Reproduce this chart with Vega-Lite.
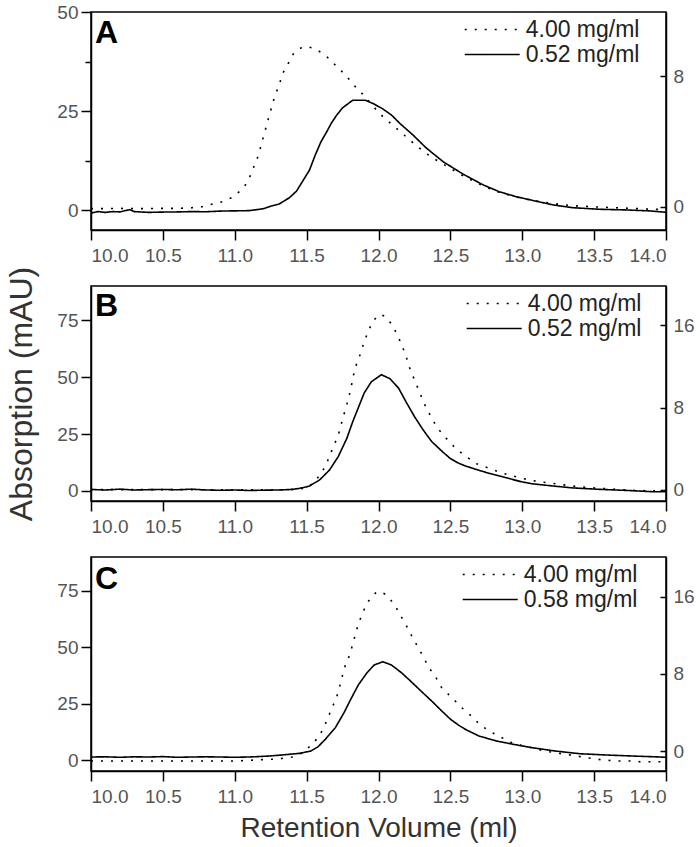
{
  "$schema": "https://vega.github.io/schema/vega-lite/v6.json",
  "background": "white",
  "padding": {"left": 5, "right": 5, "top": 2, "bottom": 3},
  "datasets": {
    "A": [
      {"s":"4.00 mg/ml","v":10.0,"a":0.4},{"s":"4.00 mg/ml","v":10.1,"a":0.4},{"s":"4.00 mg/ml","v":10.2,"a":0.45},{"s":"4.00 mg/ml","v":10.3,"a":0.4},{"s":"4.00 mg/ml","v":10.4,"a":0.4},{"s":"4.00 mg/ml","v":10.5,"a":0.45},{"s":"4.00 mg/ml","v":10.6,"a":0.45},{"s":"4.00 mg/ml","v":10.7,"a":0.6},{"s":"4.00 mg/ml","v":10.77,"a":0.85},{"s":"4.00 mg/ml","v":10.84,"a":1.5},{"s":"4.00 mg/ml","v":10.91,"a":2.1},{"s":"4.00 mg/ml","v":10.98,"a":3.2},{"s":"4.00 mg/ml","v":11.06,"a":5.5},{"s":"4.00 mg/ml","v":11.10,"a":8.0},{"s":"4.00 mg/ml","v":11.13,"a":10.7},{"s":"4.00 mg/ml","v":11.16,"a":13.4},{"s":"4.00 mg/ml","v":11.18,"a":15.9},{"s":"4.00 mg/ml","v":11.20,"a":18.6},{"s":"4.00 mg/ml","v":11.22,"a":21.2},{"s":"4.00 mg/ml","v":11.24,"a":23.9},{"s":"4.00 mg/ml","v":11.26,"a":26.4},{"s":"4.00 mg/ml","v":11.28,"a":29.0},{"s":"4.00 mg/ml","v":11.31,"a":31.6},{"s":"4.00 mg/ml","v":11.33,"a":34.3},{"s":"4.00 mg/ml","v":11.37,"a":36.9},{"s":"4.00 mg/ml","v":11.41,"a":39.6},{"s":"4.00 mg/ml","v":11.45,"a":40.8},{"s":"4.00 mg/ml","v":11.5,"a":41.3},{"s":"4.00 mg/ml","v":11.56,"a":40.7},{"s":"4.00 mg/ml","v":11.63,"a":39.1},{"s":"4.00 mg/ml","v":11.70,"a":36.6},{"s":"4.00 mg/ml","v":11.77,"a":34.1},{"s":"4.00 mg/ml","v":11.83,"a":31.5},{"s":"4.00 mg/ml","v":11.90,"a":28.9},{"s":"4.00 mg/ml","v":11.96,"a":26.3},{"s":"4.00 mg/ml","v":12.03,"a":23.6},{"s":"4.00 mg/ml","v":12.11,"a":21.1},{"s":"4.00 mg/ml","v":12.18,"a":18.9},{"s":"4.00 mg/ml","v":12.25,"a":16.7},{"s":"4.00 mg/ml","v":12.32,"a":14.6},{"s":"4.00 mg/ml","v":12.39,"a":12.9},{"s":"4.00 mg/ml","v":12.47,"a":11.2},{"s":"4.00 mg/ml","v":12.59,"a":8.6},{"s":"4.00 mg/ml","v":12.73,"a":6.1},{"s":"4.00 mg/ml","v":12.84,"a":4.5},{"s":"4.00 mg/ml","v":12.96,"a":3.3},{"s":"4.00 mg/ml","v":13.08,"a":2.4},{"s":"4.00 mg/ml","v":13.22,"a":1.64},{"s":"4.00 mg/ml","v":13.35,"a":1.14},{"s":"4.00 mg/ml","v":13.54,"a":0.76},{"s":"4.00 mg/ml","v":13.73,"a":0.5},{"s":"4.00 mg/ml","v":13.89,"a":0.25},{"s":"4.00 mg/ml","v":14.0,"a":0.13},
      {"s":"0.52 mg/ml","v":10.0,"a":-0.39},{"s":"0.52 mg/ml","v":10.05,"a":-0.3},{"s":"0.52 mg/ml","v":10.1,"a":-0.35},{"s":"0.52 mg/ml","v":10.15,"a":-0.3},{"s":"0.52 mg/ml","v":10.2,"a":-0.32},{"s":"0.52 mg/ml","v":10.27,"a":-0.18},{"s":"0.52 mg/ml","v":10.3,"a":-0.3},{"s":"0.52 mg/ml","v":10.4,"a":-0.35},{"s":"0.52 mg/ml","v":10.5,"a":-0.33},{"s":"0.52 mg/ml","v":10.6,"a":-0.32},{"s":"0.52 mg/ml","v":10.7,"a":-0.3},{"s":"0.52 mg/ml","v":10.8,"a":-0.31},{"s":"0.52 mg/ml","v":10.9,"a":-0.27},{"s":"0.52 mg/ml","v":10.96,"a":-0.26},{"s":"0.52 mg/ml","v":11.05,"a":-0.25},{"s":"0.52 mg/ml","v":11.10,"a":-0.24},{"s":"0.52 mg/ml","v":11.17,"a":-0.16},{"s":"0.52 mg/ml","v":11.2,"a":-0.12},{"s":"0.52 mg/ml","v":11.24,"a":0.0},{"s":"0.52 mg/ml","v":11.31,"a":0.17},{"s":"0.52 mg/ml","v":11.38,"a":0.55},{"s":"0.52 mg/ml","v":11.43,"a":0.96},{"s":"0.52 mg/ml","v":11.47,"a":1.53},{"s":"0.52 mg/ml","v":11.52,"a":2.25},{"s":"0.52 mg/ml","v":11.56,"a":3.17},{"s":"0.52 mg/ml","v":11.60,"a":3.99},{"s":"0.52 mg/ml","v":11.64,"a":4.6},{"s":"0.52 mg/ml","v":11.67,"a":5.1},{"s":"0.52 mg/ml","v":11.71,"a":5.63},{"s":"0.52 mg/ml","v":11.75,"a":6.07},{"s":"0.52 mg/ml","v":11.82,"a":6.53},{"s":"0.52 mg/ml","v":11.91,"a":6.53},{"s":"0.52 mg/ml","v":11.97,"a":6.3},{"s":"0.52 mg/ml","v":12.03,"a":6.0},{"s":"0.52 mg/ml","v":12.09,"a":5.63},{"s":"0.52 mg/ml","v":12.15,"a":5.1},{"s":"0.52 mg/ml","v":12.24,"a":4.4},{"s":"0.52 mg/ml","v":12.33,"a":3.62},{"s":"0.52 mg/ml","v":12.45,"a":2.76},{"s":"0.52 mg/ml","v":12.59,"a":1.99},{"s":"0.52 mg/ml","v":12.73,"a":1.33},{"s":"0.52 mg/ml","v":12.84,"a":0.92},{"s":"0.52 mg/ml","v":12.96,"a":0.61},{"s":"0.52 mg/ml","v":13.08,"a":0.37},{"s":"0.52 mg/ml","v":13.22,"a":0.1},{"s":"0.52 mg/ml","v":13.35,"a":-0.06},{"s":"0.52 mg/ml","v":13.54,"a":-0.16},{"s":"0.52 mg/ml","v":13.73,"a":-0.2},{"s":"0.52 mg/ml","v":13.89,"a":-0.26},{"s":"0.52 mg/ml","v":14.0,"a":-0.34}
    ],
    "B": [
      {"s":"4.00 mg/ml","v":10.0,"a":0.6},{"s":"4.00 mg/ml","v":10.5,"a":0.6},{"s":"4.00 mg/ml","v":11.0,"a":0.5},{"s":"4.00 mg/ml","v":11.3,"a":0.5},{"s":"4.00 mg/ml","v":11.45,"a":0.8},{"s":"4.00 mg/ml","v":11.5,"a":1.5},{"s":"4.00 mg/ml","v":11.54,"a":3.2},{"s":"4.00 mg/ml","v":11.58,"a":6.0},{"s":"4.00 mg/ml","v":11.63,"a":10.7},{"s":"4.00 mg/ml","v":11.66,"a":15.4},{"s":"4.00 mg/ml","v":11.69,"a":20},{"s":"4.00 mg/ml","v":11.72,"a":24.4},{"s":"4.00 mg/ml","v":11.74,"a":29.1},{"s":"4.00 mg/ml","v":11.76,"a":33.7},{"s":"4.00 mg/ml","v":11.78,"a":38.1},{"s":"4.00 mg/ml","v":11.80,"a":42.9},{"s":"4.00 mg/ml","v":11.815,"a":47.3},{"s":"4.00 mg/ml","v":11.83,"a":52.1},{"s":"4.00 mg/ml","v":11.85,"a":56.4},{"s":"4.00 mg/ml","v":11.88,"a":61.1},{"s":"4.00 mg/ml","v":11.90,"a":65.6},{"s":"4.00 mg/ml","v":11.93,"a":70.2},{"s":"4.00 mg/ml","v":11.96,"a":74.6},{"s":"4.00 mg/ml","v":12.01,"a":77.5},{"s":"4.00 mg/ml","v":12.05,"a":76.6},{"s":"4.00 mg/ml","v":12.09,"a":73.3},{"s":"4.00 mg/ml","v":12.13,"a":68.7},{"s":"4.00 mg/ml","v":12.16,"a":64.3},{"s":"4.00 mg/ml","v":12.19,"a":59.6},{"s":"4.00 mg/ml","v":12.21,"a":55.1},{"s":"4.00 mg/ml","v":12.24,"a":50.4},{"s":"4.00 mg/ml","v":12.27,"a":45.8},{"s":"4.00 mg/ml","v":12.30,"a":41.2},{"s":"4.00 mg/ml","v":12.33,"a":36.7},{"s":"4.00 mg/ml","v":12.37,"a":32},{"s":"4.00 mg/ml","v":12.41,"a":27.6},{"s":"4.00 mg/ml","v":12.47,"a":23.2},{"s":"4.00 mg/ml","v":12.54,"a":18.5},{"s":"4.00 mg/ml","v":12.61,"a":15.1},{"s":"4.00 mg/ml","v":12.68,"a":12.0},{"s":"4.00 mg/ml","v":12.75,"a":10.4},{"s":"4.00 mg/ml","v":12.82,"a":8.8},{"s":"4.00 mg/ml","v":12.89,"a":7.3},{"s":"4.00 mg/ml","v":12.97,"a":6.0},{"s":"4.00 mg/ml","v":13.04,"a":5.0},{"s":"4.00 mg/ml","v":13.11,"a":4.1},{"s":"4.00 mg/ml","v":13.19,"a":3.5},{"s":"4.00 mg/ml","v":13.26,"a":2.9},{"s":"4.00 mg/ml","v":13.33,"a":2.3},{"s":"4.00 mg/ml","v":13.40,"a":1.8},{"s":"4.00 mg/ml","v":13.47,"a":1.45},{"s":"4.00 mg/ml","v":13.55,"a":1.15},{"s":"4.00 mg/ml","v":13.62,"a":0.88},{"s":"4.00 mg/ml","v":13.70,"a":0.57},{"s":"4.00 mg/ml","v":13.77,"a":0.26},{"s":"4.00 mg/ml","v":13.85,"a":0.13},{"s":"4.00 mg/ml","v":13.95,"a":0.0},{"s":"4.00 mg/ml","v":14.0,"a":0.0},
      {"s":"0.52 mg/ml","v":10.0,"a":0.05},{"s":"0.52 mg/ml","v":10.1,"a":0.0},{"s":"0.52 mg/ml","v":10.2,"a":0.08},{"s":"0.52 mg/ml","v":10.3,"a":0.0},{"s":"0.52 mg/ml","v":10.4,"a":0.03},{"s":"0.52 mg/ml","v":10.5,"a":0.05},{"s":"0.52 mg/ml","v":10.6,"a":0.02},{"s":"0.52 mg/ml","v":10.7,"a":0.08},{"s":"0.52 mg/ml","v":10.8,"a":0.0},{"s":"0.52 mg/ml","v":10.9,"a":-0.03},{"s":"0.52 mg/ml","v":11.0,"a":0.0},{"s":"0.52 mg/ml","v":11.1,"a":-0.05},{"s":"0.52 mg/ml","v":11.2,"a":-0.02},{"s":"0.52 mg/ml","v":11.3,"a":0.0},{"s":"0.52 mg/ml","v":11.4,"a":0.05},{"s":"0.52 mg/ml","v":11.45,"a":0.16},{"s":"0.52 mg/ml","v":11.5,"a":0.3},{"s":"0.52 mg/ml","v":11.52,"a":0.39},{"s":"0.52 mg/ml","v":11.59,"a":0.97},{"s":"0.52 mg/ml","v":11.66,"a":1.95},{"s":"0.52 mg/ml","v":11.72,"a":3.24},{"s":"0.52 mg/ml","v":11.78,"a":5.02},{"s":"0.52 mg/ml","v":11.82,"a":6.6},{"s":"0.52 mg/ml","v":11.86,"a":8.0},{"s":"0.52 mg/ml","v":11.90,"a":9.4},{"s":"0.52 mg/ml","v":11.95,"a":10.5},{"s":"0.52 mg/ml","v":12.02,"a":11.19},{"s":"0.52 mg/ml","v":12.08,"a":10.8},{"s":"0.52 mg/ml","v":12.14,"a":9.88},{"s":"0.52 mg/ml","v":12.19,"a":8.59},{"s":"0.52 mg/ml","v":12.25,"a":7.13},{"s":"0.52 mg/ml","v":12.31,"a":5.84},{"s":"0.52 mg/ml","v":12.37,"a":4.7},{"s":"0.52 mg/ml","v":12.45,"a":3.65},{"s":"0.52 mg/ml","v":12.5,"a":3.05},{"s":"0.52 mg/ml","v":12.55,"a":2.65},{"s":"0.52 mg/ml","v":12.6,"a":2.35},{"s":"0.52 mg/ml","v":12.69,"a":1.95},{"s":"0.52 mg/ml","v":12.77,"a":1.61},{"s":"0.52 mg/ml","v":12.87,"a":1.25},{"s":"0.52 mg/ml","v":12.99,"a":0.81},{"s":"0.52 mg/ml","v":13.07,"a":0.6},{"s":"0.52 mg/ml","v":13.19,"a":0.42},{"s":"0.52 mg/ml","v":13.35,"a":0.2},{"s":"0.52 mg/ml","v":13.54,"a":0.06},{"s":"0.52 mg/ml","v":13.72,"a":-0.04},{"s":"0.52 mg/ml","v":13.91,"a":-0.17},{"s":"0.52 mg/ml","v":14.0,"a":-0.17}
    ],
    "C": [
      {"s":"4.00 mg/ml","v":10.0,"a":-0.3},{"s":"4.00 mg/ml","v":10.5,"a":-0.3},{"s":"4.00 mg/ml","v":11.0,"a":-0.3},{"s":"4.00 mg/ml","v":11.15,"a":0.2},{"s":"4.00 mg/ml","v":11.3,"a":0.6},{"s":"4.00 mg/ml","v":11.4,"a":1.5},{"s":"4.00 mg/ml","v":11.45,"a":2.5},{"s":"4.00 mg/ml","v":11.5,"a":4.8},{"s":"4.00 mg/ml","v":11.58,"a":10.0},{"s":"4.00 mg/ml","v":11.62,"a":14.5},{"s":"4.00 mg/ml","v":11.65,"a":19.2},{"s":"4.00 mg/ml","v":11.68,"a":23.7},{"s":"4.00 mg/ml","v":11.71,"a":28.2},{"s":"4.00 mg/ml","v":11.73,"a":32.8},{"s":"4.00 mg/ml","v":11.75,"a":37.7},{"s":"4.00 mg/ml","v":11.77,"a":42.2},{"s":"4.00 mg/ml","v":11.80,"a":46.7},{"s":"4.00 mg/ml","v":11.82,"a":51.3},{"s":"4.00 mg/ml","v":11.84,"a":55.9},{"s":"4.00 mg/ml","v":11.86,"a":60.5},{"s":"4.00 mg/ml","v":11.89,"a":65.2},{"s":"4.00 mg/ml","v":11.92,"a":69.7},{"s":"4.00 mg/ml","v":11.98,"a":74.1},{"s":"4.00 mg/ml","v":12.01,"a":74.8},{"s":"4.00 mg/ml","v":12.05,"a":73.4},{"s":"4.00 mg/ml","v":12.11,"a":69.1},{"s":"4.00 mg/ml","v":12.15,"a":64.5},{"s":"4.00 mg/ml","v":12.19,"a":60.1},{"s":"4.00 mg/ml","v":12.23,"a":55.2},{"s":"4.00 mg/ml","v":12.27,"a":50.6},{"s":"4.00 mg/ml","v":12.31,"a":46.0},{"s":"4.00 mg/ml","v":12.35,"a":41.1},{"s":"4.00 mg/ml","v":12.40,"a":36.7},{"s":"4.00 mg/ml","v":12.44,"a":32.1},{"s":"4.00 mg/ml","v":12.51,"a":27.8},{"s":"4.00 mg/ml","v":12.58,"a":23.3},{"s":"4.00 mg/ml","v":12.65,"a":19.4},{"s":"4.00 mg/ml","v":12.71,"a":15.5},{"s":"4.00 mg/ml","v":12.79,"a":12.3},{"s":"4.00 mg/ml","v":12.86,"a":10.0},{"s":"4.00 mg/ml","v":12.93,"a":7.7},{"s":"4.00 mg/ml","v":13.01,"a":6.4},{"s":"4.00 mg/ml","v":13.09,"a":5.2},{"s":"4.00 mg/ml","v":13.16,"a":4.1},{"s":"4.00 mg/ml","v":13.23,"a":3.4},{"s":"4.00 mg/ml","v":13.30,"a":2.7},{"s":"4.00 mg/ml","v":13.38,"a":1.9},{"s":"4.00 mg/ml","v":13.45,"a":1.15},{"s":"4.00 mg/ml","v":13.53,"a":0.44},{"s":"4.00 mg/ml","v":13.60,"a":0.0},{"s":"4.00 mg/ml","v":13.68,"a":-0.3},{"s":"4.00 mg/ml","v":13.75,"a":-0.3},{"s":"4.00 mg/ml","v":13.82,"a":-0.6},{"s":"4.00 mg/ml","v":13.89,"a":-0.6},{"s":"4.00 mg/ml","v":14.0,"a":-0.6},
      {"s":"0.58 mg/ml","v":10.0,"a":-0.62},{"s":"0.58 mg/ml","v":10.1,"a":-0.6},{"s":"0.58 mg/ml","v":10.2,"a":-0.65},{"s":"0.58 mg/ml","v":10.3,"a":-0.6},{"s":"0.58 mg/ml","v":10.4,"a":-0.62},{"s":"0.58 mg/ml","v":10.5,"a":-0.58},{"s":"0.58 mg/ml","v":10.6,"a":-0.65},{"s":"0.58 mg/ml","v":10.7,"a":-0.62},{"s":"0.58 mg/ml","v":10.8,"a":-0.6},{"s":"0.58 mg/ml","v":10.9,"a":-0.62},{"s":"0.58 mg/ml","v":11.0,"a":-0.65},{"s":"0.58 mg/ml","v":11.1,"a":-0.62},{"s":"0.58 mg/ml","v":11.24,"a":-0.52},{"s":"0.58 mg/ml","v":11.33,"a":-0.41},{"s":"0.58 mg/ml","v":11.45,"a":-0.24},{"s":"0.58 mg/ml","v":11.53,"a":0.0},{"s":"0.58 mg/ml","v":11.58,"a":0.45},{"s":"0.58 mg/ml","v":11.63,"a":1.21},{"s":"0.58 mg/ml","v":11.70,"a":2.42},{"s":"0.58 mg/ml","v":11.76,"a":3.97},{"s":"0.58 mg/ml","v":11.81,"a":5.45},{"s":"0.58 mg/ml","v":11.86,"a":6.85},{"s":"0.58 mg/ml","v":11.92,"a":8.11},{"s":"0.58 mg/ml","v":11.97,"a":8.91},{"s":"0.58 mg/ml","v":12.03,"a":9.25},{"s":"0.58 mg/ml","v":12.09,"a":8.91},{"s":"0.58 mg/ml","v":12.16,"a":8.11},{"s":"0.58 mg/ml","v":12.23,"a":7.15},{"s":"0.58 mg/ml","v":12.30,"a":6.15},{"s":"0.58 mg/ml","v":12.37,"a":5.18},{"s":"0.58 mg/ml","v":12.44,"a":4.15},{"s":"0.58 mg/ml","v":12.5,"a":3.3},{"s":"0.58 mg/ml","v":12.56,"a":2.65},{"s":"0.58 mg/ml","v":12.61,"a":2.2},{"s":"0.58 mg/ml","v":12.70,"a":1.55},{"s":"0.58 mg/ml","v":12.82,"a":1.04},{"s":"0.58 mg/ml","v":12.94,"a":0.69},{"s":"0.58 mg/ml","v":13.07,"a":0.34},{"s":"0.58 mg/ml","v":13.23,"a":0.0},{"s":"0.58 mg/ml","v":13.40,"a":-0.28},{"s":"0.58 mg/ml","v":13.58,"a":-0.41},{"s":"0.58 mg/ml","v":13.77,"a":-0.52},{"s":"0.58 mg/ml","v":13.96,"a":-0.62},{"s":"0.58 mg/ml","v":14.0,"a":-0.65}
    ]
  },
  "config": {
    "font": "Liberation Sans",
    "view": {"stroke": "#000", "strokeWidth": 1.5},
    "axis": {"grid": false, "domainColor": "#000", "domainWidth": 1.5, "tickColor": "#000", "tickWidth": 1.5, "labelColor": "#555", "labelFontSize": 19, "labelFont": "Liberation Sans", "titleFont": "Liberation Sans", "titleFontWeight": "normal", "titleColor": "#333"},
    "legend": {"labelFont": "Liberation Sans"},
    "text": {"font": "Liberation Sans"}
  },
  "resolve": {"scale": {"strokeDash": "independent"}, "legend": {"strokeDash": "independent"}},
  "bounds": "flush",
  "spacing": 56,
  "vconcat": [
    {
      "width": 575, "height": 218,
      "data": {"name": "A"},
      "layer": [
        {
          "layer": [
            {
              "transform": [{"filter": "datum.s === '4.00 mg/ml'"}],
              "mark": {"type": "line", "color": "#000", "strokeWidth": 1.6, "strokeCap": "butt"},
              "encoding": {
                "x": {"field": "v", "type": "quantitative", "scale": {"domain": [10, 14], "nice": false}, "axis": {"title": null, "values": [10,10.25,10.5,10.75,11,11.25,11.5,11.75,12,12.25,12.5,12.75,13,13.25,13.5,13.75,14], "format": ".1f", "labelExpr": "(datum.value*2) % 1 === 0 ? datum.label : ''", "tickSize": {"condition": {"test": "(datum.value*2) % 1 !== 0", "value": 5}, "value": 10}, "labelPadding": 6}},
                "y": {"field": "a", "type": "quantitative", "scale": {"domain": [-5, 50], "nice": false, "zero": false}, "axis": {"title": null, "values": [0,12.5,25,37.5,50], "labelExpr": "datum.value % 25 === 0 ? datum.label : ''", "tickSize": {"condition": {"test": "datum.value % 25 !== 0", "value": 6}, "value": 10}, "labelPadding": 3}},
                "strokeDash": {"field": "s", "type": "nominal", "scale": {"domain": ["4.00 mg/ml", "0.52 mg/ml"], "range": [[2, 8], [1, 0]]}, "legend": {"orient": "none", "legendX": 373, "legendY": 6, "title": null, "symbolType": "M-2.75,0H2.75", "symbolSize": 400, "symbolOffset": 16.7, "symbolStrokeWidth": 1.6, "symbolStrokeColor": "#000", "labelFontSize": 23, "labelColor": "#222", "labelOffset": 22, "rowPadding": 1, "padding": 0, "labelLimit": 300}}
              }
            },
            {
              "data": {"values": [{}]},
              "mark": {"type": "text", "text": "A", "align": "left", "baseline": "alphabetic", "fontSize": 32, "fontWeight": "bold", "color": "#000", "dx": 4, "dy": 31},
              "encoding": {"x": {"datum": 10, "type": "quantitative"}, "y": {"datum": 50, "type": "quantitative"}}
            }
          ]
        },
        {
          "transform": [{"filter": "datum.s === '0.52 mg/ml'"}],
          "mark": {"type": "line", "color": "#000", "strokeWidth": 1.6},
          "encoding": {
            "x": {"field": "v", "type": "quantitative"},
            "y": {"field": "a", "type": "quantitative", "scale": {"domain": [-1.43, 11.95], "nice": false, "zero": false}, "axis": {"orient": "right", "title": null, "values": [0, 8], "tickSize": -6, "labelPadding": 13}},
            "strokeDash": {"field": "s", "type": "nominal"}
          }
        }
      ],
      "resolve": {"scale": {"y": "independent"}}
    },
    {
      "width": 575, "height": 215,
      "data": {"name": "B"},
      "layer": [
        {
          "layer": [
            {
              "transform": [{"filter": "datum.s === '4.00 mg/ml'"}],
              "mark": {"type": "line", "color": "#000", "strokeWidth": 1.6, "strokeCap": "butt"},
              "encoding": {
                "x": {"field": "v", "type": "quantitative", "scale": {"domain": [10, 14], "nice": false}, "axis": {"title": null, "values": [10,10.25,10.5,10.75,11,11.25,11.5,11.75,12,12.25,12.5,12.75,13,13.25,13.5,13.75,14], "format": ".1f", "labelExpr": "(datum.value*2) % 1 === 0 ? datum.label : ''", "tickSize": {"condition": {"test": "(datum.value*2) % 1 !== 0", "value": 5}, "value": 10}, "labelPadding": 6}},
                "y": {"field": "a", "type": "quantitative", "scale": {"domain": [-4.4, 90], "nice": false, "zero": false}, "axis": {"title": "Absorption (mAU)", "titleFontSize": 32, "titlePadding": 18, "values": [0,12.5,25,37.5,50,62.5,75,87.5], "labelExpr": "datum.value % 25 === 0 ? datum.label : ''", "tickSize": {"condition": {"test": "datum.value % 25 !== 0", "value": 6}, "value": 10}, "labelPadding": 3}},
                "strokeDash": {"field": "s", "type": "nominal", "scale": {"domain": ["4.00 mg/ml", "0.52 mg/ml"], "range": [[2, 8], [1, 0]]}, "legend": {"orient": "none", "legendX": 375, "legendY": 6, "title": null, "symbolType": "M-2.75,0H2.75", "symbolSize": 400, "symbolOffset": 16.7, "symbolStrokeWidth": 1.6, "symbolStrokeColor": "#000", "labelFontSize": 23, "labelColor": "#222", "labelOffset": 22, "rowPadding": 1, "padding": 0, "labelLimit": 300}}
              }
            },
            {
              "data": {"values": [{}]},
              "mark": {"type": "text", "text": "B", "align": "left", "baseline": "alphabetic", "fontSize": 32, "fontWeight": "bold", "color": "#000", "dx": 4, "dy": 30},
              "encoding": {"x": {"datum": 10, "type": "quantitative"}, "y": {"datum": 90, "type": "quantitative"}}
            }
          ]
        },
        {
          "transform": [{"filter": "datum.s === '0.52 mg/ml'"}],
          "mark": {"type": "line", "color": "#000", "strokeWidth": 1.6},
          "encoding": {
            "x": {"field": "v", "type": "quantitative"},
            "y": {"field": "a", "type": "quantitative", "scale": {"domain": [-1.07, 19.8], "nice": false, "zero": false}, "axis": {"orient": "right", "title": null, "values": [0, 8, 16], "tickSize": -6, "labelPadding": 13}},
            "strokeDash": {"field": "s", "type": "nominal"}
          }
        }
      ],
      "resolve": {"scale": {"y": "independent"}}
    },
    {
      "width": 575, "height": 214,
      "data": {"name": "C"},
      "layer": [
        {
          "layer": [
            {
              "transform": [{"filter": "datum.s === '4.00 mg/ml'"}],
              "mark": {"type": "line", "color": "#000", "strokeWidth": 1.6, "strokeCap": "butt"},
              "encoding": {
                "x": {"field": "v", "type": "quantitative", "scale": {"domain": [10, 14], "nice": false}, "axis": {"title": "Retention Volume (ml)", "titleFontSize": 28, "titlePadding": 8, "values": [10,10.25,10.5,10.75,11,11.25,11.5,11.75,12,12.25,12.5,12.75,13,13.25,13.5,13.75,14], "format": ".1f", "labelExpr": "(datum.value*2) % 1 === 0 ? datum.label : ''", "tickSize": {"condition": {"test": "(datum.value*2) % 1 !== 0", "value": 5}, "value": 10}, "labelPadding": 6}},
                "y": {"field": "a", "type": "quantitative", "scale": {"domain": [-4.7, 90], "nice": false, "zero": false}, "axis": {"title": null, "values": [0,12.5,25,37.5,50,62.5,75,87.5], "labelExpr": "datum.value % 25 === 0 ? datum.label : ''", "tickSize": {"condition": {"test": "datum.value % 25 !== 0", "value": 6}, "value": 10}, "labelPadding": 3}},
                "strokeDash": {"field": "s", "type": "nominal", "scale": {"domain": ["4.00 mg/ml", "0.58 mg/ml"], "range": [[2, 8], [1, 0]]}, "legend": {"orient": "none", "legendX": 371, "legendY": 6, "title": null, "symbolType": "M-2.75,0H2.75", "symbolSize": 400, "symbolOffset": 16.7, "symbolStrokeWidth": 1.6, "symbolStrokeColor": "#000", "labelFontSize": 23, "labelColor": "#222", "labelOffset": 22, "rowPadding": 1, "padding": 0, "labelLimit": 300}}
              }
            },
            {
              "data": {"values": [{}]},
              "mark": {"type": "text", "text": "C", "align": "left", "baseline": "alphabetic", "fontSize": 32, "fontWeight": "bold", "color": "#000", "dx": 4, "dy": 32},
              "encoding": {"x": {"datum": 10, "type": "quantitative"}, "y": {"datum": 90, "type": "quantitative"}}
            }
          ]
        },
        {
          "transform": [{"filter": "datum.s === '0.58 mg/ml'"}],
          "mark": {"type": "line", "color": "#000", "strokeWidth": 1.6},
          "encoding": {
            "x": {"field": "v", "type": "quantitative"},
            "y": {"field": "a", "type": "quantitative", "scale": {"domain": [-2.07, 20.1], "nice": false, "zero": false}, "axis": {"orient": "right", "title": null, "values": [0, 8, 16], "tickSize": -6, "labelPadding": 13}},
            "strokeDash": {"field": "s", "type": "nominal"}
          }
        }
      ],
      "resolve": {"scale": {"y": "independent"}}
    }
  ]
}
